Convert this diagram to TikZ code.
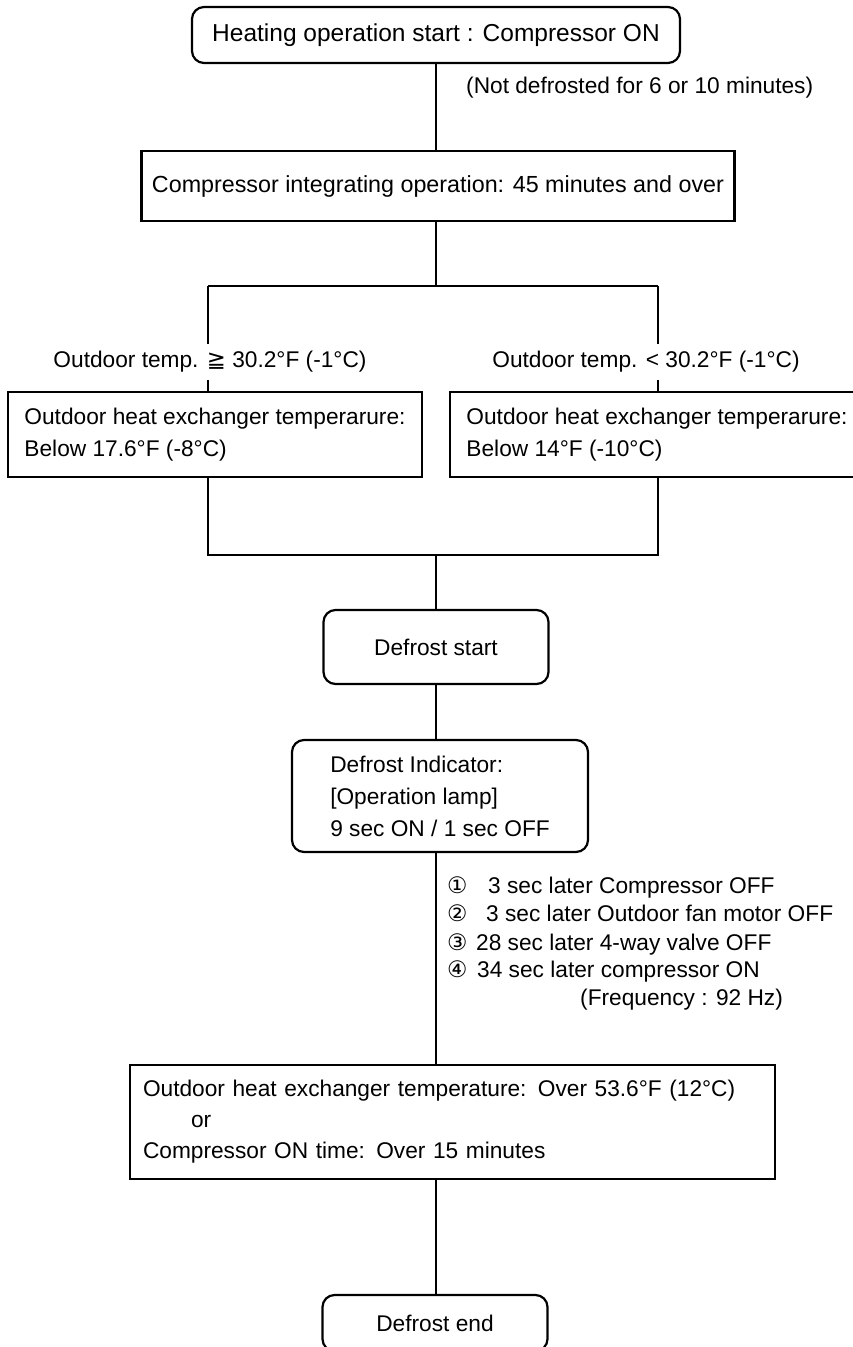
\documentclass[tikz,border=0pt]{standalone}
\usepackage{fontspec}
\setmainfont{Liberation Sans}
\newfontfamily\symfont{DejaVu Sans}
\tikzstyle{txt} = [inner sep=0pt, font={\fontsize{22.7pt}{28pt}\selectfont}]
\tikzstyle{box} = [draw=black, line width=2.2pt, inner sep=0pt, font={\fontsize{22.7pt}{32pt}\selectfont}]
\tikzstyle{rbox} = [box, rounded corners=12pt]
\tikzstyle{cond} = [txt, fill=white, inner sep=7pt]
\tikzstyle{wire} = [line width=2.2pt]

\begin{document}
\begin{tikzpicture}[x=1pt,y=-1pt]
        \useasboundingbox (0,0) rectangle (853,1347);
        \node[rbox,minimum width=488pt,minimum height=56pt,font={\fontsize{24.5pt}{30pt}\selectfont}](start) at (436,35){Heating operation start : Compressor ON};
        \node[txt,anchor=west](note) at (466,88){(Not defrosted for 6 or 10 minutes)};
        \node[box,minimum width=593pt,minimum height=70pt,font={\fontsize{23.3pt}{30pt}\selectfont}](integ) at (438,186){Compressor integrating operation: 45 minutes and over};
        \coordinate(j) at (436,286);
        \coordinate(jl) at (208,286);
        \coordinate(jr) at (658,286);
        \node[cond](condL) at (210,362){Outdoor temp. {\symfont ≧} 30.2°F (-1°C)};
        \node[cond](condR) at (646,362){Outdoor temp. < 30.2°F (-1°C)};
        \node[box,align=left,minimum width=414pt,minimum height=85pt](boxL) at (215,434.5){Outdoor heat exchanger temperarure:\\Below 17.6°F (-8°C)};
        \node[box,align=left,minimum width=414pt,minimum height=85pt](boxR) at (657,434.5){Outdoor heat exchanger temperarure:\\Below 14°F (-10°C)};
        \coordinate(kl) at (208,555);
        \coordinate(kr) at (658,555);
        \coordinate(k) at (436,555);
        \node[rbox,minimum width=225pt,minimum height=74pt](dfstart) at (436,647){Defrost start};
        \node[rbox,align=left,minimum width=296pt,minimum height=112pt](dfind) at (440,796){Defrost Indicator:\\{[}Operation lamp]\\9 sec ON / 1 sec OFF};
        \node[txt,anchor=base west](step1) at (447,893){\makebox[41pt][l]{\symfont ①}3 sec later Compressor OFF};
        \node[txt,anchor=base west](step2) at (447,921){\makebox[39pt][l]{\symfont ②}3 sec later Outdoor fan motor OFF};
        \node[txt,anchor=base west](step3) at (447,950){\makebox[29pt][l]{\symfont ③}28 sec later 4-way valve OFF};
        \node[txt,anchor=base west](step4) at (447,977){\makebox[30pt][l]{\symfont ④}34 sec later compressor ON};
        \node[txt,anchor=base west](freq) at (580,1005){(Frequency : 92 Hz)};
        \node[box,align=left,text width=619pt,inner xsep=13pt,minimum height=114pt,font={\fontsize{22.7pt}{31pt}\selectfont}](dfstop) at (452.5,1122){Outdoor heat exchanger temperature: Over 53.6°F (12°C)\\\hspace*{48pt}or\\Compressor ON time: Over 15 minutes};
        \node[rbox,minimum width=225pt,minimum height=56pt](dfend) at (435,1323){Defrost end};
        \draw[wire](start.south)--(start.south|-integ.north);
        \draw[wire](integ.south-|j)--(j);
        \draw[wire](jl)--(jr);
        \draw[wire](jl)--(jl|-condL.north);
        \draw[wire](jl|-condL.south)--(jl|-boxL.north);
        \draw[wire](jr)--(jr|-condR.north);
        \draw[wire](jr|-condR.south)--(jr|-boxR.north);
        \draw[wire](boxL.south-|kl)--(kl)--(kr)--(boxR.south-|kr);
        \draw[wire](k)--(k|-dfstart.north);
        \draw[wire](dfstart.south-|k)--(k|-dfind.north);
        \draw[wire](dfind.south-|k)--(k|-dfstop.north);
        \draw[wire](dfstop.south-|k)--(k|-dfend.north);
      \end{tikzpicture}
\end{document}
